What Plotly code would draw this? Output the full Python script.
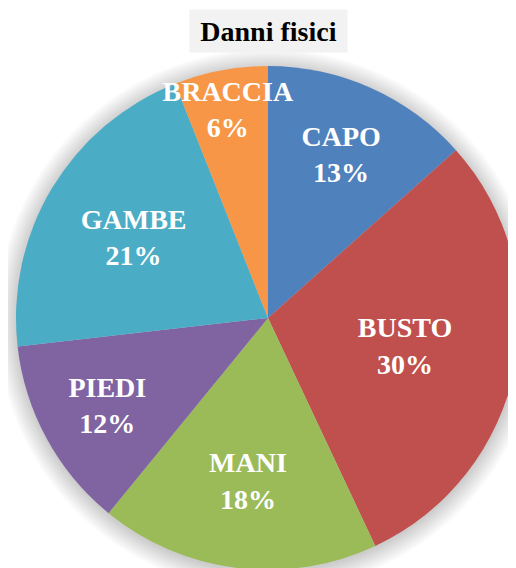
import plotly.graph_objects as go

categories = ["CAPO", "BUSTO", "MANI", "PIEDI", "GAMBE", "BRACCIA"]
values = [13.4, 29.6, 17.9, 12.3, 20.8, 6.0]
colors = ["#4F81BD", "#C0504D", "#9BBB59", "#8064A2", "#4BACC6", "#F79646"]
title = "Danni fisici"

W, H = 516, 568
# pie box in figure pixels (page has an 8px body margin)
PX0, PX1 = 8, 512
PY0, PY1 = 58, 562

fig = go.Figure()
fig.add_trace(go.Pie(
    labels=categories,
    values=values,
    sort=False,
    direction="clockwise",
    rotation=0,
    marker=dict(colors=colors, line=dict(width=0)),
    texttemplate="%{label}<br>%{percent:.0%}",
    textposition="inside",
    insidetextorientation="horizontal",
    insidetextfont=dict(family="Liberation Serif", size=28, color="white", weight="bold"),
    hoverinfo="label+percent",
    showlegend=False,
    domain=dict(x=[PX0 / W, PX1 / W], y=[1 - PY1 / H, 1 - PY0 / H]),
))

# soft shadow around the pie
cx = (PX0 + PX1) / 2
cy = (PY0 + PY1) / 2
r = (PX1 - PX0) / 2
shapes = []
for i in range(10):
    rr = r + 1 + i * 2
    shapes.append(dict(
        type="circle", xref="paper", yref="paper", layer="below",
        x0=(cx - rr) / W, x1=(cx + rr) / W,
        y0=1 - (cy + rr + 2) / H, y1=1 - (cy - rr + 2) / H,
        fillcolor="rgba(0,0,0,0.02)", line=dict(width=0),
    ))

fig.update_layout(
    width=W, height=H,
    margin=dict(l=0, r=0, t=0, b=0),
    paper_bgcolor="white",
    plot_bgcolor="white",
    font=dict(family="Liberation Serif"),
    shapes=shapes,
    uniformtext=dict(minsize=28, mode="show"),
    annotations=[dict(
        text="<b>" + title + "</b>",
        x=260 / W, y=1 - 23 / H, xref="paper", yref="paper",
        xanchor="center", yanchor="middle", showarrow=False,
        font=dict(family="Liberation Serif", size=28, color="black"),
        bgcolor="#F2F2F2", borderpad=6, width=145, height=30,
    )],
)

fig.write_html(
    "out.html",
    post_script="document.documentElement.style.overflow='hidden';"
                "document.body.style.overflow='hidden';",
)
